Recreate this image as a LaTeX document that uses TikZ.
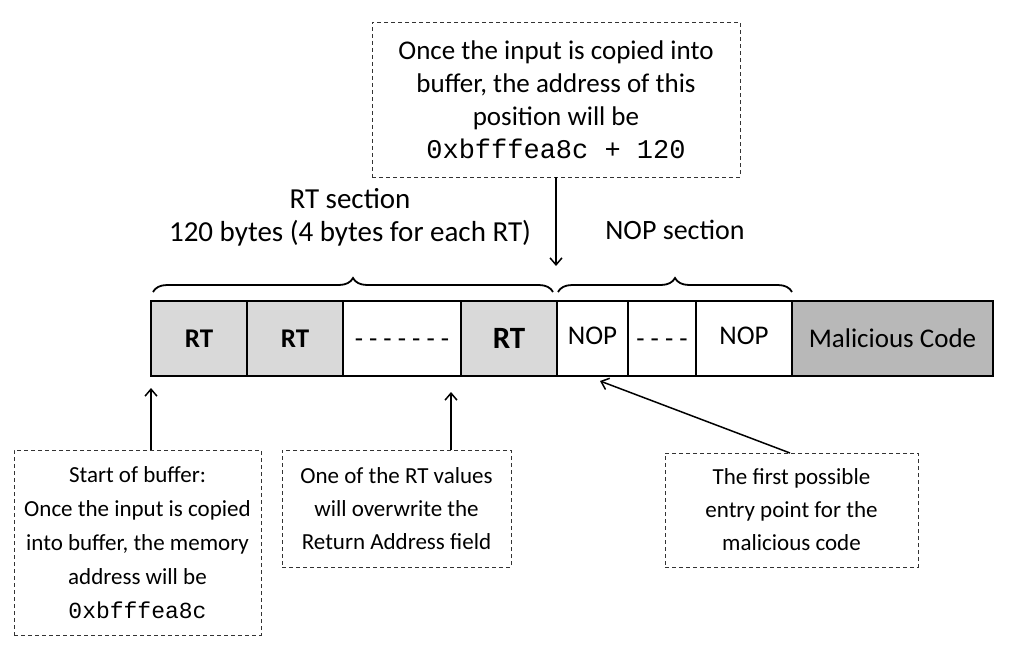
\documentclass[tikz,border=0pt]{standalone}
\usepackage{fontspec}
\setmainfont{Carlito}
\setmonofont{Liberation Mono}
\usetikzlibrary{decorations.pathreplacing,arrows.meta}
\begin{document}
\begin{tikzpicture}[x=1pt,y=-1pt,
  txt/.style={font=\fontsize{28}{33}\selectfont, align=center, inner sep=0pt},
  note/.style={align=center, inner sep=0pt, draw=black!80, dash pattern=on 4pt off 3pt, line width=0.9pt},
  cell/.style={draw, line width=1.6pt, minimum height=75, inner sep=0pt, outer sep=0pt, font=\fontsize{27}{30}\selectfont},
  rt/.style={cell, fill=black!15, font=\fontsize{27}{30}\selectfont\bfseries},
  wcell/.style={cell, fill=white},
  mal/.style={cell, fill=black!28},
  celltxt/.style={inner sep=0pt, font=\fontsize{27}{30}\selectfont},
  arr/.style={-{Straight Barb[length=7pt,width=12pt]}, line width=1.5pt},
  brc/.style={decorate, decoration={brace, amplitude=14pt}, line width=1.8pt}
]
\useasboundingbox (0,0) rectangle (1035,650);

% cells
\node[rt, minimum width=96] (c1) at (199,338.5) {RT};
\node[rt, minimum width=96] (c2) at (295,338.5) {RT};
\node[wcell, minimum width=118] (c3) at (402,338.5) {\raisebox{-0.33em}[0pt][0pt]{- - - - - - -}};
\node[rt, minimum width=96] (c4) at (509,338.5) {\fontsize{31}{32}\selectfont RT};
\node[wcell, minimum width=71] (c5) at (592.5,338.5) {};
\node[wcell, minimum width=68] (c6) at (662,338.5) {\raisebox{-0.33em}[0pt][0pt]{- - - -}};
\node[wcell, minimum width=96] (c7) at (744,338.5) {};
\node[mal, minimum width=201] (c8) at (892.5,338.5) {Malicious Code};
\node[celltxt] (t5) at (592.5,336) {NOP};
\node[celltxt] (t7) at (744,336) {NOP};

% braces
\draw[brc] (153,292) -- (553,292);
\draw[brc] (558,292) -- (792,292);
\node[txt, font=\fontsize{29}{33}\selectfont] (rtsec) at (350,217) {RT section\\120 bytes (4 bytes for each RT)};
\node[txt] (nopsec) at (675,230) {NOP section};

% top note
\node[note, minimum width=368, minimum height=155, font=\fontsize{27}{33}\selectfont] (top) at (556,99.5)
  {Once the input is copied into\\buffer, the address of this\\position will be\\\texttt{0xbfffea8c + 120}};
\coordinate (toptip) at (556,266);
\draw[arr] (top.south) -- (toptip);

% bottom notes
\node[note, minimum width=247, minimum height=185, font=\fontsize{23}{34}\selectfont] (b1) at (137.5,542.5)
  {Start of buffer:\\Once the input is copied\\into buffer, the memory\\address will be\\\texttt{0xbfffea8c}};
\node[note, minimum width=229, minimum height=117, font=\fontsize{23}{33}\selectfont] (b2) at (396.5,508.5)
  {One of the RT values\\will overwrite the\\Return Address field};
\node[note, minimum width=253, minimum height=114, font=\fontsize{23}{33}\selectfont] (b3) at (791.5,510)
  {The first possible\\entry point for the\\malicious code};

\coordinate (b1s) at (151,450);
\coordinate (b1t) at (151,388);
\coordinate (b2s) at (451,450);
\coordinate (b2t) at (451,392);
\coordinate (b3s) at (790,453);
\coordinate (b3t) at (600,381);
\draw[arr] (b1s) -- (b1t);
\draw[arr] (b2s) -- (b2t);
\draw[arr] (b3s) -- (b3t);
\end{tikzpicture}
\end{document}
